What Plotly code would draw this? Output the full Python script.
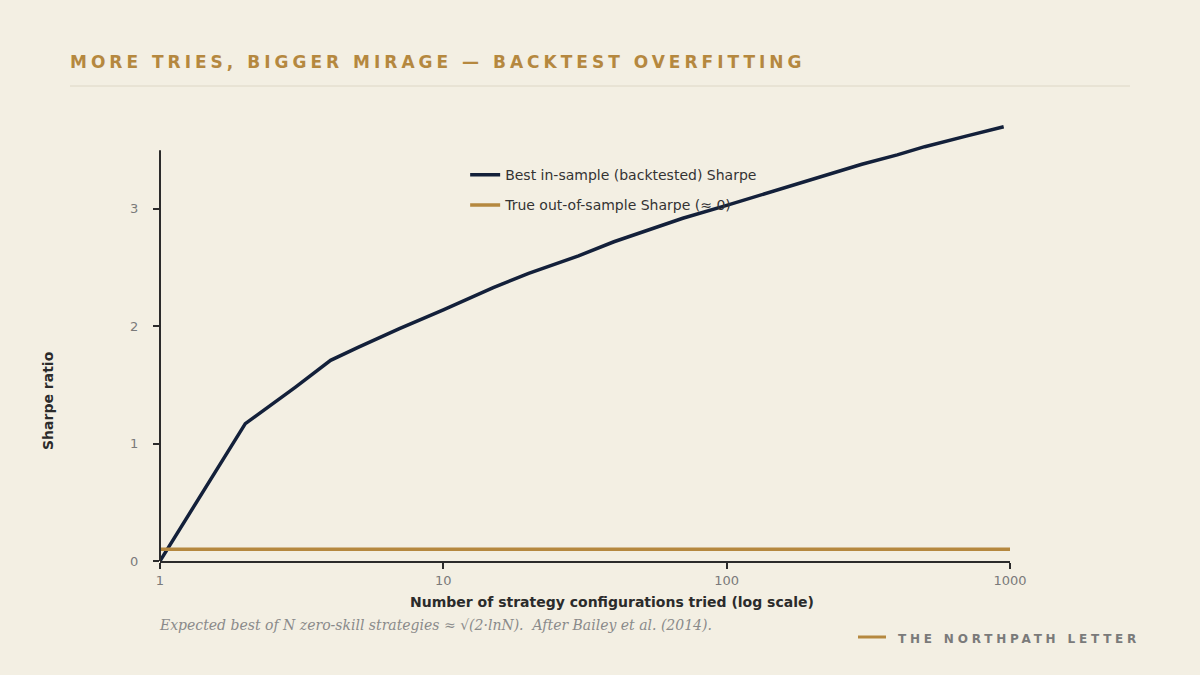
import plotly.graph_objects as go

# Data
tries = [1, 2, 3, 4, 5, 7, 10, 15, 20, 30, 40, 50, 70, 100, 150, 200, 300, 400, 500, 700, 950]
best_sharpe = [0.0, 1.17, 1.48, 1.71, 1.82, 1.98, 2.14, 2.33, 2.45, 2.60, 2.72, 2.80, 2.92,
               3.03, 3.16, 3.25, 3.38, 3.46, 3.53, 3.62, 3.70]
true_n = [1, 1000]
true_sharpe = [0.1, 0.1]

x_ticks = [1, 10, 100, 1000]
y_ticks = [0, 1, 2, 3]

BG = '#F3EFE3'
NAVY = '#13203A'
GOLD = '#B5883F'
INK = '#2B2B2B'
GREY = '#7A7A7A'
FONT = 'DejaVu Sans'


def spaced(txt, px):
    return f'<span style="letter-spacing:{px}px">{txt}</span>'


fig = go.Figure()

fig.add_trace(go.Scatter(
    x=tries, y=best_sharpe, mode='lines',
    line=dict(color=NAVY, width=3.5), legendgroup='a',
    name='Best in-sample (backtested) Sharpe'
))
fig.add_trace(go.Scatter(
    x=true_n, y=true_sharpe, mode='lines',
    line=dict(color=GOLD, width=3.5), legendgroup='b',
    name='True out-of-sample Sharpe (≈ 0)'
))

fig.update_layout(
    width=1200, height=675,
    paper_bgcolor=BG, plot_bgcolor=BG,
    margin=dict(l=160, r=190, t=115, b=114),
    font=dict(family=FONT, color=INK, size=13),
    showlegend=True,
    legend=dict(x=0.359, y=0.901, xanchor='left', yanchor='top',
                bgcolor='rgba(0,0,0,0)', font=dict(size=14, color='#333'),
                tracegroupgap=9, itemwidth=30),
    xaxis=dict(type='log', range=[0, 3], tickvals=x_ticks,
               ticktext=[str(v) for v in x_ticks],
               showgrid=False, zeroline=False, showline=True,
               linecolor=INK, linewidth=2, ticks='outside', ticklen=6,
               tickcolor=INK, tickwidth=1.5,
               tickfont=dict(color=GREY, size=13)),
    yaxis=dict(range=[0, 3.8], tickvals=y_ticks,
               showgrid=False, zeroline=False, showline=False,
               ticks='outside', ticklen=6, tickcolor=INK, tickwidth=1.5,
               ticklabelstandoff=12,
               tickfont=dict(color=GREY, size=13)),
)

# y-axis spine stops at 3.5 like the reference
fig.add_shape(type='line', xref='paper', yref='y', x0=0, x1=0, y0=0, y1=3.5,
              line=dict(color=INK, width=2))

# title + rule
fig.add_annotation(text='<b>' + spaced('MORE TRIES, BIGGER MIRAGE — BACKTEST OVERFITTING', 4) + '</b>',
                   xref='paper', yref='paper', x=(68 - 160) / 850, y=1.0 + (115 - 62) / 446,
                   xanchor='left', yanchor='middle', showarrow=False,
                   font=dict(size=17, color=GOLD, family=FONT))
fig.add_shape(type='line', xref='paper', yref='paper',
              x0=(70 - 160) / 850, x1=(1130 - 160) / 850,
              y0=1.0 + (115 - 86) / 446, y1=1.0 + (115 - 86) / 446,
              line=dict(color='#DDD7C6', width=1))

# axis titles
fig.add_annotation(text='<b>Number of strategy configurations tried (log scale)</b>',
                   xref='paper', yref='paper', x=(612 - 160) / 850, y=-(602 - 561) / 446,
                   xanchor='center', yanchor='middle', showarrow=False,
                   font=dict(size=14, color=INK))
fig.add_annotation(text='<b>Sharpe ratio</b>', textangle=-90,
                   xref='paper', yref='paper', x=(48 - 160) / 850, y=(561 - 400) / 446,
                   xanchor='center', yanchor='middle', showarrow=False,
                   font=dict(size=14, color=INK))

# caption
fig.add_annotation(text='<i>Expected best of N zero-skill strategies ≈ √(2·lnN).  After Bailey et al. (2014).</i>',
                   xref='paper', yref='paper', x=-3 / 850, y=-(625 - 561) / 446,
                   xanchor='left', yanchor='middle', showarrow=False,
                   font=dict(size=14, color='#8A8A8A', family='DejaVu Serif'))

# footer brand
fig.add_shape(type='line', xref='paper', yref='paper',
              x0=(858 - 160) / 850, x1=(886 - 160) / 850,
              y0=-(637 - 561) / 446, y1=-(637 - 561) / 446,
              line=dict(color=GOLD, width=3))
fig.add_annotation(text='<b>' + spaced('THE NORTHPATH LETTER', 3.8) + '</b>',
                   xref='paper', yref='paper', x=(896 - 160) / 850, y=-(639 - 561) / 446,
                   xanchor='left', yanchor='middle', showarrow=False,
                   font=dict(size=12, color=GREY))

fig.write_html('out.html', config={'displayModeBar': False},
               post_script="document.body.style.margin='0';")
